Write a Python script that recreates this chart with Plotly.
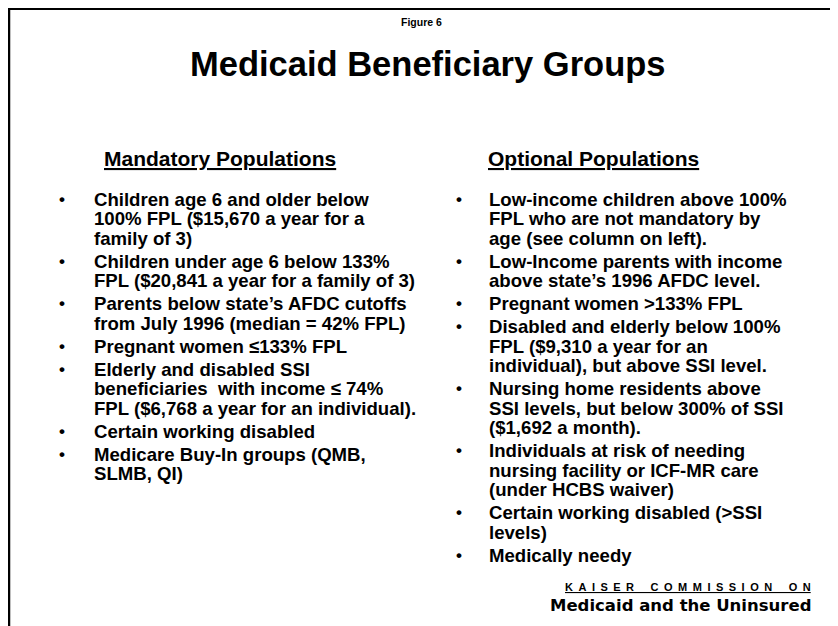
import plotly.graph_objects as go

# slide text
figure_label = 'Figure 6'
title = 'Medicaid Beneficiary Groups'
headers = ['Mandatory Populations', 'Optional Populations']

mandatory = [
    ['Children age 6 and older below', '100% FPL ($15,670 a year for a', 'family of 3)'],
    ['Children under age 6 below 133%', 'FPL ($20,841 a year for a family of 3)'],
    ["Parents below state\u2019s AFDC cutoffs", 'from July 1996 (median = 42% FPL)'],
    ['Pregnant women \u2264133% FPL'],
    ['Elderly and disabled SSI', 'beneficiaries  with income \u2264 74%', 'FPL ($6,768 a year for an individual).'],
    ['Certain working disabled'],
    ['Medicare Buy-In groups (QMB,', 'SLMB, QI)'],
]

optional = [
    ['Low-income children above 100%', 'FPL who are not mandatory by', 'age (see column on left).'],
    ['Low-Income parents with income', "above state\u2019s 1996 AFDC level."],
    ['Pregnant women >133% FPL'],
    ['Disabled and elderly below 100%', 'FPL ($9,310 a year for an', 'individual), but above SSI level.'],
    ['Nursing home residents above', 'SSI levels, but below 300% of SSI', '($1,692 a month).'],
    ['Individuals at risk of needing', 'nursing facility or ICF-MR care', '(under HCBS waiver)'],
    ['Certain working disabled (>SSI', 'levels)'],
    ['Medically needy'],
]

source_top = 'KAISER COMMISSION ON'
source_bottom = 'Medicaid and the Uninsured'

W, H = 838, 626
OFF = 8  # page body margin, so axis units match page pixels
body_font = 'Liberation Sans, Arial, sans-serif'
title_font = 'Liberation Sans Narrow, Arial Narrow, Liberation Sans, sans-serif'

fig = go.Figure()
annotations = []


def add_text(x, y, text, size, anchor='left', family=body_font):
    annotations.append(dict(
        x=x, y=y, xref='x', yref='y', text=text, showarrow=False,
        xanchor=anchor, yanchor='middle',
        font=dict(family=family, size=size, color='black'),
    ))


add_text(421, 22, '<b>' + figure_label + '</b>', 10.5, 'center', title_font)
add_text(427, 64, '<b>' + title + '</b>', 34.5, 'center', title_font)

add_text(220, 158, '<b><u>' + headers[0] + '</u></b>', 21, 'center')
add_text(593, 158, '<b><u>' + headers[1] + '</u></b>', 21, 'center')

line_h = 19.5
bullet_step = 23


def add_column(items, bullet_x, text_x, y0):
    y = y0
    for item in items:
        add_text(bullet_x, y, '<b>\u2022</b>', 17, 'center')
        for i, line in enumerate(item):
            add_text(text_x, y, '<b>' + line + '</b>', 18.6)
            if i < len(item) - 1:
                y += line_h
        y += bullet_step


add_column(mandatory, 62, 92, 199)
add_column(optional, 459, 487, 199)

gap = '\u2002'
spaced = (gap * 3).join(gap.join(w) for w in source_top.split(' '))
add_text(813, 587, '<b><u>' + spaced + '</u></b>', 11, 'right')
add_text(813, 605, '<b>' + source_bottom + '</b>', 16.5, 'right', 'DejaVu Sans, sans-serif')

fig.update_layout(
    width=W, height=H,
    margin=dict(l=0, r=0, t=0, b=0),
    paper_bgcolor='white', plot_bgcolor='white',
    showlegend=False,
    annotations=annotations,
    shapes=[
        dict(type='line', xref='x', yref='y', x0=OFF, x1=W + OFF, y0=OFF + 1, y1=OFF + 1,
             line=dict(color='black', width=2)),
        dict(type='line', xref='x', yref='y', x0=OFF + 1, x1=OFF + 1, y0=OFF, y1=H + OFF,
             line=dict(color='black', width=2.5)),
    ],
)
fig.update_xaxes(range=[OFF, W + OFF], visible=False, fixedrange=True)
fig.update_yaxes(range=[H + OFF, OFF], visible=False, fixedrange=True)

fig.write_html('out.html', config={'displayModeBar': False})
